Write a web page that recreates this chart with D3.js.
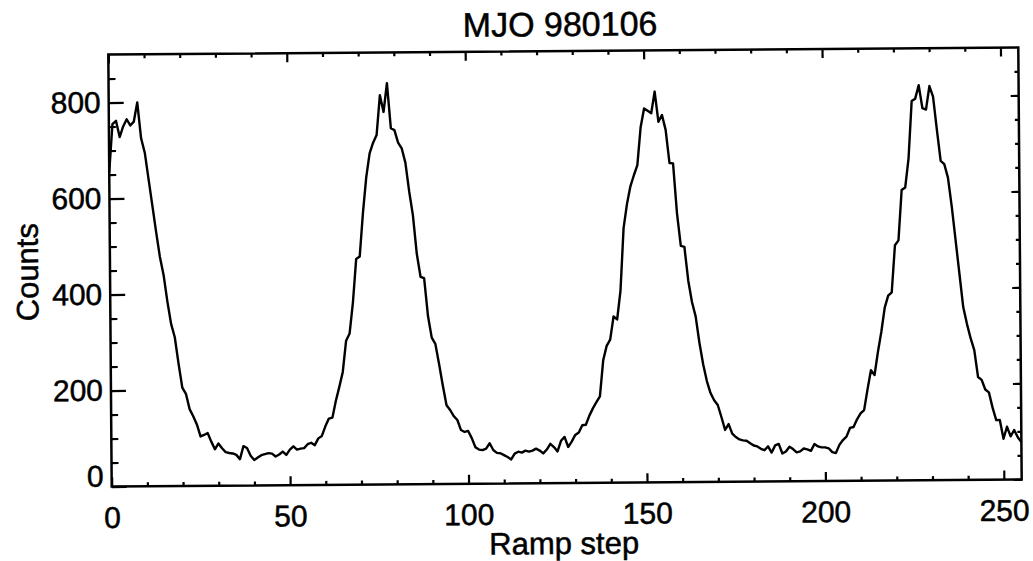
<!DOCTYPE html>
<html>
<head>
<meta charset="utf-8">
<script src="https://cdn.jsdelivr.net/npm/d3@7"></script>
<style>
  body { margin: 0; background: #fff; }
  svg text { font-family: "Liberation Sans", Arial, Helvetica, sans-serif; fill: #000; stroke: #000; stroke-width: 0.5px; }
</style>
</head>
<body>
<div class="container"></div>
<script>
//chart texts
var chartTitle = "MJO 980106";
var xLabel = "Ramp step";
var yLabel = "Counts";

//tick values
var xTicks = [0, 50, 100, 150, 200, 250];
var xMinorTicks = [10, 20, 30, 40, 60, 70, 80, 90, 110, 120, 130, 140, 160, 170, 180, 190, 210, 220, 230, 240];
var yTicks = [0, 200, 400, 600, 800];
var yMinorTicks = [50, 100, 150, 250, 300, 350, 450, 500, 550, 650, 700, 750, 850];

//counts for ramp step 0 .. 255
var counts = [
  655, 755, 762, 728, 750, 765, 752, 760, 800, 725,
  695, 640, 585, 530, 478, 440, 385, 338, 310, 255,
  205, 192, 160, 145, 128, 103, 106, 110, 92, 76,
  88, 78, 70, 68, 67, 64, 55, 82, 78, 62,
  53, 58, 63, 65, 67, 66, 60, 64, 70, 63,
  74, 81, 74, 76, 77, 85, 88, 83, 97, 102,
  122, 138, 140, 175, 204, 235, 300, 315, 380, 470,
  475, 566, 640, 690, 712, 728, 811, 776, 836, 742,
  738, 712, 700, 670, 610, 560, 480, 432, 429, 350,
  305, 292, 250, 205, 164, 154, 141, 133, 112, 108,
  110, 95, 76, 71, 70, 73, 84, 70, 64, 63,
  59, 55, 50, 62, 66, 64, 68, 66, 68, 72,
  68, 62, 70, 82, 75, 66, 88, 96, 75, 86,
  100, 105, 120, 121, 140, 155, 168, 180, 255, 285,
  298, 346, 340, 400, 530, 580, 617, 640, 661, 740,
  779, 774, 769, 814, 751, 765, 734, 665, 664, 560,
  492, 490, 420, 375, 345, 290, 245, 210, 185, 170,
  160, 135, 108, 120, 100, 93, 88, 86, 85, 80,
  75, 73, 68, 65, 73, 60, 75, 78, 58, 62,
  72, 67, 60, 62, 68, 66, 63, 77, 72, 70,
  70, 68, 60, 58, 75, 85, 92, 110, 112, 128,
  140, 147, 190, 230, 220, 268, 310, 360, 385, 392,
  490, 500, 605, 610, 670, 790, 795, 823, 775, 772,
  821, 799, 730, 665, 658, 630, 570, 500, 430, 360,
  325, 295, 270, 214, 208, 188, 182, 150, 124, 124,
  85, 110, 90, 103, 88, 78
];

//basic settings for structure
var settings = {
  w: 1033,
  h: 561,
  left: 110,
  right: 1020,
  top: 51,
  bottom: 483,
  tilt: -0.45
};

var svg = d3.select(".container").append("svg")
  .attr("width", settings.w)
  .attr("height", settings.h);

svg.append("rect")
  .attr("width", settings.w)
  .attr("height", settings.h)
  .style("fill", "#fff");

//the scan is a little tilted, so the whole plot is too
var chart = svg.append("g")
  .attr("transform", "rotate(" + settings.tilt + ",565,267)");

var x = d3.scaleLinear().domain([0, 255]).range([settings.left, settings.right]);
var y = d3.scaleLinear().domain([0, 900]).range([settings.bottom, settings.top]);

//ticks point into the plot
function styleAxis(g) {
  g.select(".domain").remove();
  g.selectAll("line").style("stroke", "#000").style("stroke-width", 2.2);
  g.selectAll("text").style("font-size", "30px").style("fill", "#000");
}

//bottom axis
chart.append("g")
  .attr("transform", "translate(0," + settings.bottom + ")")
  .call(d3.axisBottom(x).tickValues(xTicks).tickSize(-9).tickPadding(20).tickFormat(d3.format("d")))
  .call(styleAxis);
chart.append("g")
  .attr("transform", "translate(0," + settings.bottom + ")")
  .call(d3.axisBottom(x).tickValues(xMinorTicks).tickSize(-4).tickFormat(""))
  .call(styleAxis);

//top axis
chart.append("g")
  .attr("transform", "translate(0," + settings.top + ")")
  .call(d3.axisTop(x).tickValues(xTicks).tickSize(-9).tickFormat(""))
  .call(styleAxis);
chart.append("g")
  .attr("transform", "translate(0," + settings.top + ")")
  .call(d3.axisTop(x).tickValues(xMinorTicks).tickSize(-4).tickFormat(""))
  .call(styleAxis);

//left axis
var yAxisG = chart.append("g")
  .attr("transform", "translate(" + settings.left + ",0)")
  .call(d3.axisLeft(y).tickValues(yTicks).tickSize(-15).tickPadding(8).tickFormat(d3.format("d")))
  .call(styleAxis);
chart.append("g")
  .attr("transform", "translate(" + settings.left + ",0)")
  .call(d3.axisLeft(y).tickValues(yMinorTicks).tickSize(-7).tickFormat(""))
  .call(styleAxis);

//the 0 label sits a bit above its tick
yAxisG.selectAll(".tick text")
  .filter(function(d) { return d === 0; })
  .attr("y", -10);

//right axis
chart.append("g")
  .attr("transform", "translate(" + settings.right + ",0)")
  .call(d3.axisRight(y).tickValues(yTicks).tickSize(-8).tickFormat(""))
  .call(styleAxis);
chart.append("g")
  .attr("transform", "translate(" + settings.right + ",0)")
  .call(d3.axisRight(y).tickValues(yMinorTicks).tickSize(-4).tickFormat(""))
  .call(styleAxis);

//frame
chart.append("rect")
  .attr("x", settings.left)
  .attr("y", settings.top)
  .attr("width", settings.right - settings.left)
  .attr("height", settings.bottom - settings.top)
  .style("fill", "none")
  .style("stroke", "#000")
  .style("stroke-width", 2.5);

//data line
var line = d3.line()
  .x(function(d, i) { return x(i); })
  .y(function(d) { return y(d); });

chart.append("path")
  .datum(counts)
  .attr("d", line)
  .style("fill", "none")
  .style("stroke", "#000")
  .style("stroke-width", 2.4)
  .style("stroke-linejoin", "round");

//titles
chart.append("text")
  .attr("x", 562)
  .attr("y", 36)
  .attr("text-anchor", "middle")
  .style("font-size", "34px")
  .text(chartTitle);

chart.append("text")
  .attr("x", 562)
  .attr("y", 554)
  .attr("text-anchor", "middle")
  .style("font-size", "31px")
  .text(xLabel);

chart.append("text")
  .attr("transform", "translate(38,268) rotate(-90)")
  .attr("text-anchor", "middle")
  .style("font-size", "31px")
  .text(yLabel);
</script>
</body>
</html>
